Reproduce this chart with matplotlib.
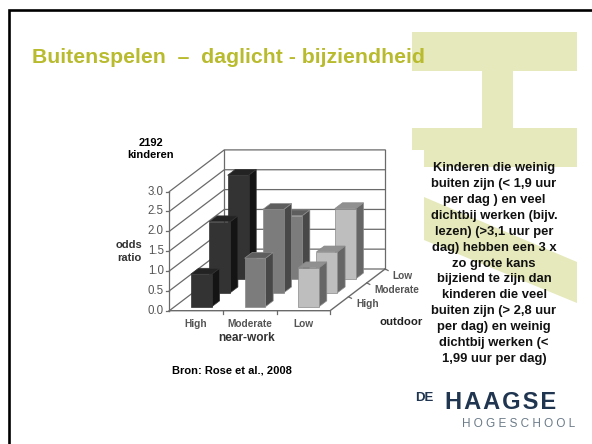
"""Slide: outdoor time, near-work and myopia, with an oblique 3D bar chart."""

import matplotlib

matplotlib.use("Agg")
import matplotlib.pyplot as plt
from matplotlib.patches import Polygon

plt.rcParams["font.family"] = ["Liberation Sans", "DejaVu Sans"]

near_work = ["High", "Moderate", "Low"]
outdoor = ["High", "Moderate", "Low"]
y_ticks = [0.0, 0.5, 1.0, 1.5, 2.0, 2.5, 3.0]

# odds ratio per near-work group, one list per outdoor row
odds_high_outdoor = [0.82, 1.22, 0.98]
odds_moderate_outdoor = [1.79, 2.10, 1.03]
odds_low_outdoor = [2.61, 1.59, 1.77]
rows = [odds_high_outdoor, odds_moderate_outdoor, odds_low_outdoor]

title = "Buitenspelen  \u2013  daglicht - bijziendheid"
side_text = (
    "Kinderen die weinig\nbuiten zijn (< 1,9 uur\nper dag ) en veel\n"
    "dichtbij werken (bijv.\nlezen) (>3,1 uur per\ndag) hebben een 3 x\n"
    "zo grote kans\nbijziend te zijn dan\nkinderen die veel\n"
    "buiten zijn (> 2,8 uur\nper dag) en weinig\ndichtbij werken (<\n"
    "1,99 uur per dag)"
)

# colours for each near-work group: front, top, side
face_cols = ["#333333", "#7c7c7c", "#bebebe"]
top_cols = ["#232323", "#5e5e5e", "#909090"]
side_cols = ["#141414", "#484848", "#666666"]
YELLOW = "#e6e9bb"
GREY = "#555555"
LINE = "#6a6a6a"

# projection of the chart box onto slide pixels
X0, Y0 = 169.3, 310.7
CAT_W = 53.6
UNIT_H = 39.7
DEPTH_DX, DEPTH_DY = 18.33, -13.9


def proj(cat, depth, val):
    return (X0 + cat * CAT_W + depth * DEPTH_DX, Y0 + depth * DEPTH_DY - val * UNIT_H)


fig = plt.figure(figsize=(5.92, 4.44), dpi=100)
ax = fig.add_axes([0, 0, 1, 1])
ax.set_xlim(0, 592)
ax.set_ylim(444, 0)
ax.axis("off")

# background letter shapes
for pts in [
    [(412, 32), (577, 32), (577, 71), (513, 71), (513, 128), (577, 128), (577, 167),
     (424, 167), (424, 150), (412, 150), (412, 128), (482, 128), (482, 71), (412, 71)],
    [(424, 197), (577, 262), (577, 303), (424, 240)],
]:
    ax.add_patch(Polygon(pts, closed=True, fc=YELLOW, ec="none", zorder=1))

# slide frame
ax.plot([9, 9, 592], [444, 10.5, 10.5], color="black", lw=1.9, zorder=2,
        solid_joinstyle="miter")

# walls and grid
n_cat, n_depth = len(near_work), len(outdoor)
for v in y_ticks:
    pts = [proj(0, 0, v), proj(0, n_depth, v), proj(n_cat, n_depth, v)]
    ax.plot(*zip(*pts), color=LINE, lw=0.9, zorder=3)
    x, y = proj(0, 0, v)
    ax.plot([x - 3, x], [y, y], color=LINE, lw=0.9, zorder=3)
    ax.text(x - 5.5, y, f"{v:.1f}", ha="right", va="center", fontsize=8.3, color=GREY, zorder=6)
ax.plot(*zip(proj(0, 0, 0), proj(0, 0, 3)), color=LINE, lw=0.9, zorder=3)
ax.plot(*zip(proj(0, n_depth, 0), proj(0, n_depth, 3)), color=LINE, lw=0.9, zorder=3)
ax.plot(*zip(proj(n_cat, n_depth, 0), proj(n_cat, n_depth, 3)), color=LINE, lw=0.9, zorder=3)
ax.plot(*zip(proj(0, 0, 0), proj(n_cat, 0, 0), proj(n_cat, n_depth, 0)),
        color=LINE, lw=1.0, zorder=3)
for c in range(1, n_cat + 1):
    x, y = proj(c, 0, 0)
    ax.plot([x, x], [y, y + 3], color=LINE, lw=0.9, zorder=3)
for d in range(1, n_depth + 1):
    x, y = proj(n_cat, d, 0)
    ax.plot([x, x + 3], [y, y + 1.5], color=LINE, lw=0.9, zorder=3)

# bars, back row first so that nearer ones cover them
z = 4.0
BAR_L, BAR_R = 0.305, 0.695
DEP_F, DEP_B = 0.29, 0.71
for d in range(n_depth - 1, -1, -1):
    for c in range(n_cat):
        v = rows[d][c]
        l, r = c + BAR_L, c + BAR_R
        f, b = d + DEP_F, d + DEP_B
        front = [proj(l, f, 0), proj(r, f, 0), proj(r, f, v), proj(l, f, v)]
        top = [proj(l, f, v), proj(r, f, v), proj(r, b, v), proj(l, b, v)]
        side = [proj(r, f, 0), proj(r, b, 0), proj(r, b, v), proj(r, f, v)]
        for pts, col in [(side, side_cols[c]), (top, top_cols[c]), (front, face_cols[c])]:
            ax.add_patch(Polygon(pts, closed=True, fc=col, ec="#8a8a8a" if c else "#333333",
                                 lw=0.5, zorder=z))
            z += 0.001

# axis category labels
for c, lab in enumerate(near_work):
    x, y = proj(c + 0.5, 0, 0)
    ax.text(x, 323.5, lab, ha="center", va="center", fontsize=7.3, color=GREY,
            fontweight="bold", zorder=6)
for d, lab in enumerate(outdoor):
    x, y = proj(n_cat, d, 0)
    ax.text(x + 26, y - 7, lab, ha="left", va="center", fontsize=7.3,
            color=GREY, fontweight="bold", zorder=6)

ax.text(246.7, 338, "near-work", ha="center", va="center", fontsize=8.6, fontweight="bold",
        color="#333333")
ax.text(379, 322, "outdoor", ha="left", va="center", fontsize=8.2, fontweight="bold",
        color="#222222")
ax.text(129, 251.5, "odds\nratio", ha="center", va="center", fontsize=8, fontweight="bold",
        color="#333333", linespacing=1.3)
ax.text(150.7, 149, "2192\nkinderen", ha="center", va="center", fontsize=8, fontweight="bold",
        color="black", linespacing=1.25)
ax.text(172, 370, "Bron: Rose et al., 2008", ha="left", va="center", fontsize=8,
        fontweight="bold", color="black")

ax.text(32, 63.3, title, ha="left", va="baseline", fontsize=15.3, fontweight="bold",
        color="#b9bb2e", zorder=5)
ax.text(494, 263.5, side_text, ha="center", va="center", fontsize=9.4, fontweight="bold",
        color="#111111", linespacing=1.43, zorder=5)

# logo
NAVY = "#1f3550"
ax.text(415, 397.5, "DE", ha="left", va="center", fontsize=9.5, fontweight="bold", color=NAVY)
ax.text(445, 402.5, "H\u200aA\u200aA\u200aG\u200aS\u200aE", ha="left", va="center",
        fontsize=17, fontweight="bold", color=NAVY)
ax.text(462, 423.5, "H O G E S C H O O L", ha="left", va="center", fontsize=8.5,
        color="#6b7b88")

fig.savefig("out.png", dpi=100)
